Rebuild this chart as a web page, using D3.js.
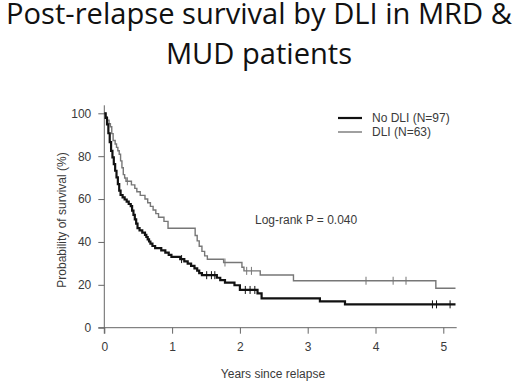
<!DOCTYPE html>
<html>
<head>
<meta charset="utf-8">
<script src="https://cdn.jsdelivr.net/npm/d3@7"></script>
<style>
  body { margin: 0; background: #fff; }
  svg { display: block; }
</style>
</head>
<body>
<div id="chart"></div>
<script>
// Kaplan-Meier steps: [years, survival %]
const noDliSteps = [
  [0, 100], [0.02, 97.9], [0.04, 94.8], [0.06, 90.7], [0.08, 86.6], [0.10, 82.5],
  [0.12, 79.4], [0.14, 76.3], [0.16, 73.2], [0.18, 70.1], [0.20, 67.0], [0.22, 63.9],
  [0.24, 61.9], [0.27, 60.8], [0.30, 59.8], [0.33, 58.8], [0.36, 57.7], [0.39, 56.7],
  [0.41, 54.6], [0.43, 52.6], [0.45, 50.5], [0.47, 48.5], [0.49, 46.4], [0.52, 45.4],
  [0.56, 44.3], [0.60, 43.3], [0.62, 42.3], [0.64, 41.2], [0.66, 40.2], [0.68, 39.2],
  [0.71, 38.1], [0.75, 37.1], [0.84, 36.1], [0.90, 35.0], [0.95, 34.0], [0.99, 33.0],
  [1.12, 32.0], [1.18, 30.9], [1.23, 29.9], [1.28, 28.8], [1.33, 27.7], [1.37, 26.6],
  [1.40, 25.5], [1.44, 24.5], [1.66, 23.3], [1.71, 22.2], [1.78, 21.0], [1.92, 19.8],
  [2.00, 17.6], [2.26, 16.0], [2.32, 13.7], [3.18, 12.3], [3.55, 10.9], [5.18, 10.9]
];
const noDliCensored = [1.14, 1.51, 1.58, 1.63, 2.08, 2.15, 2.22, 4.84, 4.90, 5.10];

const dliSteps = [
  [0, 100], [0.02, 98.4], [0.04, 96.8], [0.07, 95.2], [0.09, 93.7], [0.11, 90.5],
  [0.13, 87.3], [0.16, 85.7], [0.18, 84.1], [0.20, 82.5], [0.22, 80.9], [0.24, 77.8],
  [0.26, 74.6], [0.28, 71.4], [0.30, 69.8], [0.32, 68.3], [0.40, 66.6], [0.45, 65.0],
  [0.48, 63.4], [0.53, 61.7], [0.60, 60.0], [0.64, 58.3], [0.68, 56.6], [0.72, 54.9],
  [0.76, 53.2], [0.80, 51.5], [0.88, 49.6], [0.94, 46.4], [1.34, 43.0], [1.37, 40.5],
  [1.40, 38.0], [1.44, 35.6], [1.48, 33.5], [1.52, 31.9], [1.76, 30.4], [2.03, 28.2],
  [2.06, 26.5], [2.30, 24.6], [2.79, 21.9], [4.89, 18.4], [5.18, 18.4]
];
const dliCensored = [0.34, 1.78, 2.10, 2.17, 3.86, 4.26, 4.45];

const xTicks = [0, 1, 2, 3, 4, 5];
const yTicks = [0, 20, 40, 60, 80, 100];
const titleLines = ["Post-relapse survival by DLI in MRD &", "MUD patients"];
const legendLabels = ["No DLI (N=97)", "DLI (N=63)"];
const pValueLabel = "Log-rank P = 0.040";

const width = 520, height = 384;
const x0 = 104.3, x1 = 456.7;
const y0 = 327.7, y1 = 113.3;
const font = "'Liberation Sans', Arial, sans-serif";

const svg = d3.select("#chart").append("svg")
  .attr("width", width)
  .attr("height", height);

// title, scaled so the first line spans the page like the original slide
const title = svg.append("g")
  .attr("font-family", "'Open Sans', 'Noto Sans', sans-serif")
  .attr("fill", "#111");
const t1 = title.append("text")
  .attr("x", 259).attr("y", 24)
  .attr("text-anchor", "middle")
  .attr("font-size", 30)
  .text(titleLines[0]);
const fs = 30 * 506 / t1.node().getComputedTextLength();
t1.attr("font-size", fs);
title.append("text")
  .attr("x", 259).attr("y", 64)
  .attr("text-anchor", "middle")
  .attr("font-size", fs)
  .text(titleLines[1]);

const x = d3.scaleLinear().domain([0, 5]).range([x0, x0 + 5 * 67.8]);
const y = d3.scaleLinear().domain([0, 100]).range([y0, y1]);

const axisColor = "#666";
const textColor = "#3a3a3a";

// axes cross at the origin, lines run a little past the ticks
const xAxis = svg.append("g")
  .attr("transform", "translate(0," + y0 + ")")
  .call(d3.axisBottom(x).tickValues(xTicks).tickSize(6).tickPadding(9).tickFormat(d3.format("d")));
xAxis.select(".domain").attr("d", "M" + (x0 - 6) + ",0H" + x1);

const yAxis = svg.append("g")
  .attr("transform", "translate(" + x0 + ",0)")
  .call(d3.axisLeft(y).tickValues(yTicks).tickSize(6).tickPadding(7).tickFormat(d3.format("d")));
yAxis.select(".domain").attr("d", "M0," + (y1 - 8) + "V" + (y0 + 6));

svg.selectAll(".tick line, .domain").attr("stroke", axisColor).attr("stroke-width", 1);
svg.selectAll(".tick text")
  .attr("font-family", font)
  .attr("font-size", 12)
  .attr("fill", textColor);

svg.append("text")
  .attr("x", 273).attr("y", 378)
  .attr("text-anchor", "middle")
  .attr("font-family", font)
  .attr("font-size", 12)
  .attr("fill", textColor)
  .text("Years since relapse");

svg.append("text")
  .attr("transform", "translate(66,220) rotate(-90)")
  .attr("text-anchor", "middle")
  .attr("font-family", font)
  .attr("font-size", 12)
  .attr("fill", textColor)
  .text("Probability of survival (%)");

const line = d3.line()
  .x(d => x(d[0]))
  .y(d => y(d[1]))
  .curve(d3.curveStepAfter);

// survival value at time t for the censor marks
function survAt(steps, t) {
  let s = steps[0][1];
  for (const d of steps) { if (d[0] <= t) s = d[1]; }
  return s;
}

const groups = [
  { steps: dliSteps, cens: dliCensored, color: "#777", w: 1.4 },
  { steps: noDliSteps, cens: noDliCensored, color: "#111", w: 2.2 }
];

groups.forEach(g => {
  svg.append("path")
    .datum(g.steps)
    .attr("fill", "none")
    .attr("stroke", g.color)
    .attr("stroke-width", g.w)
    .attr("d", line);
  svg.selectAll(null)
    .data(g.cens)
    .enter().append("line")
    .attr("x1", d => x(d)).attr("x2", d => x(d))
    .attr("y1", d => y(survAt(g.steps, d)) - 4)
    .attr("y2", d => y(survAt(g.steps, d)) + 4)
    .attr("stroke", g.color)
    .attr("stroke-width", 1);
});

// legend
const legend = svg.append("g")
  .attr("font-family", font)
  .attr("font-size", 12)
  .attr("fill", textColor);
[{ c: "#111", w: 2.2 }, { c: "#777", w: 1.4 }].forEach((s, i) => {
  const ly = 118 + i * 14;
  legend.append("line")
    .attr("x1", 338).attr("x2", 362)
    .attr("y1", ly).attr("y2", ly)
    .attr("stroke", s.c).attr("stroke-width", s.w);
  legend.append("text")
    .attr("x", 372).attr("y", ly + 4)
    .text(legendLabels[i]);
});

svg.append("text")
  .attr("x", 255).attr("y", 224)
  .attr("font-family", font)
  .attr("font-size", 12)
  .attr("fill", textColor)
  .text(pValueLabel);
</script>
</body>
</html>
